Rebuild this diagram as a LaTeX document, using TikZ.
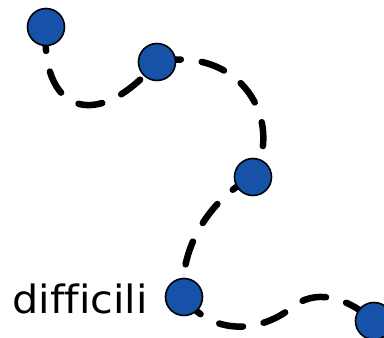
\documentclass[tikz,border=0pt]{standalone}
\usepackage{fontspec}
\newfontfamily\labfont[Ligatures={NoCommon}]{DejaVu Sans}
\definecolor{dotblue}{RGB}{22,82,168}
\begin{document}
\begin{tikzpicture}[x=1pt,y=-1pt,
  trail/.style={line width=6.5pt, dash pattern=on 24pt off 21pt, line cap=round, black},
  dot/.style={circle, draw=black, line width=1.6pt, fill=dotblue, minimum size=37pt, inner sep=0pt}]
\useasboundingbox (0,0) rectangle (384,338);
\coordinate (d1) at (46,27);
\coordinate (d2) at (157,62);
\coordinate (d3) at (253,177);
\coordinate (d4) at (184,297);
\coordinate (d5) at (374,321);
\coordinate (m4) at (295,305);
\draw[trail] (d1) .. controls (40,110) and (95,135) .. (d2);
\draw[trail] (d2) .. controls (240,45) and (285,120) .. (d3);
\draw[trail] (d3) .. controls (215,195) and (178,245) .. (d4);
\draw[trail] (d4) .. controls (210,335) and (260,335) .. (m4) .. controls (320,288) and (350,300) .. (d5);
\node[dot] (n1) at (d1) {};
\node[dot] (n2) at (d2) {};
\node[dot] (n3) at (d3) {};
\node[dot] (n4) at (d4) {};
\node[dot] (n5) at (d5) {};
\node[anchor=base east, inner sep=0pt, xscale=1.06, font=\labfont\fontsize{39pt}{42pt}\selectfont] (lab) at (148,313) {difficili};
\end{tikzpicture}
\end{document}
